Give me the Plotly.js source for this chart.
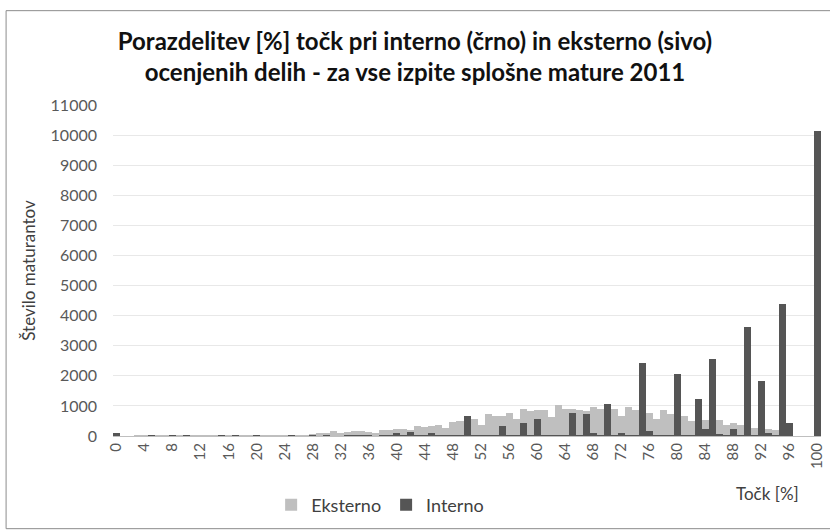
<!DOCTYPE html>
<html>
<head>
<meta charset="utf-8">
<script src="https://cdn.plot.ly/plotly-3.0.1.min.js"></script>
<style>html,body{margin:0;padding:0;background:#fff;}#chart{width:830px;height:530px;}</style>
</head>
<body>
<div id="chart"></div>
<script>
// Categories: percentage of points 0..100
const points = Array.from({length: 101}, (_, i) => i);
const tickLabels = [0,4,8,12,16,20,24,28,32,36,40,44,48,52,56,60,64,68,72,76,80,84,88,92,96,100];

// Eksterno (light grey) counts, index = points %
const eksterno = [
  30,10,15,20,25,20,20,20,25,25,
  25,25,25,25,25,30,30,30,35,35,
  35,35,40,40,40,45,45,50,60,110,
  110,150,90,120,150,150,140,100,190,200,
  240,220,190,330,290,330,380,275,480,490,
  600,560,370,720,670,680,780,560,910,830,
  870,860,620,1020,910,900,880,840,970,910,
  900,910,670,970,870,800,780,580,870,720,
  700,680,490,520,530,520,540,370,420,360,
  300,275,250,245,195,150,0,0,0,0,
  0
];

// Interno (dark grey) counts, index = points %
const interno = [
  90,5,5,5,10,40,10,10,40,10,
  35,10,10,10,10,30,10,35,10,10,
  35,10,10,10,15,40,10,10,20,15,
  40,15,15,50,20,40,45,15,30,20,
  90,20,140,20,30,90,20,20,45,20,
  680,20,35,20,20,330,20,20,440,20,
  575,20,30,20,20,775,20,720,110,20,
  1060,20,90,50,20,2420,160,20,30,20,
  2060,30,20,1240,230,2560,60,20,245,20,
  3620,30,1820,100,20,4400,440,0,0,0,
  10150
];

const traces = [
  {type: 'bar', name: 'Eksterno', x: points, y: eksterno,
   marker: {color: '#bfbfbf', line: {width: 0}}, hoverinfo: 'x+y'},
  {type: 'bar', name: 'Interno', x: points, y: interno,
   marker: {color: '#555555', line: {width: 0}}, hoverinfo: 'x+y'}
];

const fontFam = 'Lato, "Open Sans", sans-serif';
const layout = {
  width: 830, height: 530,
  paper_bgcolor: '#fff', plot_bgcolor: '#fff',
  margin: {l: 113, r: 9, t: 105, b: 94, pad: 0},
  barmode: 'overlay', bargap: 0,
  font: {family: fontFam, color: '#595959', size: 14},
  title: {
    text: 'Porazdelitev [%] točk pri interno (črno) in eksterno (sivo)<br>ocenjenih delih - za vse izpite splošne mature 2011',
    font: {family: fontFam, size: 24, color: '#111', weight: 'bold'},
    x: 0.5, xanchor: 'center', y: 0.906, yanchor: 'middle'
  },
  xaxis: {
    type: 'linear', range: [-0.5, 100.5],
    tickmode: 'array', tickvals: tickLabels, ticktext: tickLabels.map(String),
    tickangle: -90, ticks: '', showgrid: false, zeroline: false,
    showline: true, linecolor: '#bfbfbf', linewidth: 1,
    tickfont: {size: 15, color: '#595959'}
  },
  yaxis: {
    range: [0, 11000], dtick: 1000, tick0: 0, tickformat: 'd',
    showgrid: true, gridcolor: '#e8e8e8', gridwidth: 1,
    zeroline: false, showline: false, ticks: '', ticklabelstandoff: 15,
    tickfont: {size: 16, color: '#595959'},
    title: {text: 'Število maturantov', font: {size: 17, color: '#404040'}, standoff: 10}
  },
  showlegend: true,
  legend: {
    orientation: 'h', xref: 'container', yref: 'container',
    x: 0.458, xanchor: 'center', y: 0.047, yanchor: 'middle',
    font: {size: 18, color: '#404040'}, traceorder: 'normal',
    itemwidth: 30, bgcolor: 'rgba(0,0,0,0)'
  },
  annotations: [
    {text: 'Točk [%]', xref: 'paper', yref: 'paper', x: 0.925, y: -0.135,
     xanchor: 'center', yanchor: 'top', showarrow: false,
     font: {family: fontFam, size: 17, color: '#404040'}}
  ],
  shapes: [
    {type: 'rect', xref: 'paper', yref: 'paper',
     x0: -0.151, x1: 1.02, y0: -0.28, y1: 1.285,
     line: {color: '#8c8c8c', width: 1}, fillcolor: 'rgba(0,0,0,0)', layer: 'below'}
  ]
};

Plotly.newPlot('chart', traces, layout, {displayModeBar: false, staticPlot: true});
</script>
</body>
</html>
